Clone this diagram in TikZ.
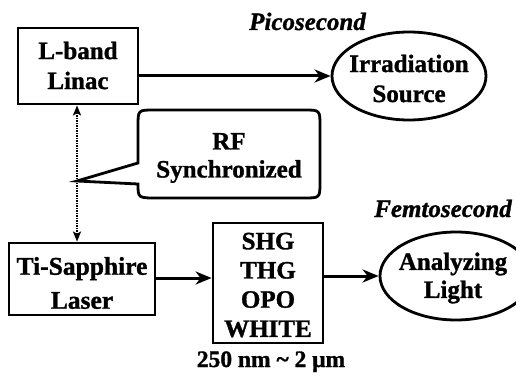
\documentclass[tikz,border=0pt]{standalone}
\usepackage{fontspec}
\setmainfont{Liberation Serif}[BoldFeatures={FakeBold=1.2},BoldItalicFeatures={FakeBold=1.2}]
\usetikzlibrary{arrows.meta,shapes.geometric}
\begin{document}
\begin{tikzpicture}[x=1pt,y=-1pt,
  box/.style={draw,line width=2.8pt,inner sep=0pt},
  ell/.style={draw,ellipse,line width=2.8pt,inner sep=0pt},
  lbl/.style={align=center,font=\fontsize{25}{30}\selectfont\bfseries,inner sep=0pt},
  ital/.style={font=\fontsize{25}{30}\selectfont\bfseries\itshape,inner sep=0pt},
  arr/.style={line width=3pt,-{Stealth[length=16pt,width=13pt,inset=5pt]}},
  dotarr/.style={line width=2pt,dash pattern=on 1.4pt off 1.1pt,
    {Stealth[length=10pt,width=8pt,inset=2pt]}-{Stealth[length=10pt,width=8pt,inset=2pt]}},
  callout/.style={draw,line width=2.8pt,line join=miter}
]
\useasboundingbox (0,0) rectangle (516,377);

% boxes and ellipses
\node[box,minimum width=120pt,minimum height=76pt] (linac) at (78,66) {};
\node[lbl] (linact) at (78,65.5) {L-band\\Linac};
\node[box,minimum width=146pt,minimum height=72pt] (ti) at (82,279) {};
\node[lbl,font=\fontsize{25.5}{34}\selectfont\bfseries] (tit) at (82,283) {Ti-Sapphire\\Laser};
\node[box,minimum width=110pt,minimum height=120pt] (shg) at (268,283) {};
\node[lbl,font=\fontsize{25}{29.2}\selectfont\bfseries] (shgt) at (268,285) {SHG\\THG\\OPO\\WHITE};
\node[ell,minimum width=154pt,minimum height=88pt] (irr) at (409,76) {};
\node[lbl] (irrt) at (409,78.5) {Irradiation\\Source};
\node[ell,minimum width=152pt,minimum height=88pt] (ana) at (456,276) {};
\node[lbl,font=\fontsize{25}{28}\selectfont\bfseries] (anat) at (453,278) {Analyzing\\Light};

% labels
\node[ital,anchor=base] (pico) at (307.5,30) {Picosecond};
\node[ital,anchor=base] (femto) at (443,217) {Femtosecond};
\node[lbl,font=\fontsize{23.5}{28}\selectfont\bfseries,anchor=base] (range) at (271,367) {250 nm \textasciitilde\ 2 μm};

% callout
\coordinate (tip) at (77,181);
\draw[callout] (tip) -- (138,163) -- (138,126) .. controls (138,110) .. (154,110)
  -- (304,110) .. controls (320,110) .. (320,126) -- (320,182)
  .. controls (320,198) .. (304,198) -- (157,198) .. controls (138,198) .. (138,184) -- cycle;
\node[lbl,font=\fontsize{25}{28}\selectfont\bfseries] (rf) at (229,158) {RF\\Synchronized};

% connectors
\draw[arr] (linac.east |- irr.west) -- (irr.west);
\draw[arr] (ti.east |- 0,278) -- (shg.west |- 0,278);
\draw[arr] (shg.east |- ana.west) -- (ana.west);
\draw[dotarr] (linac.south -| tip) -- (ti.north -| tip);
\end{tikzpicture}
\end{document}
